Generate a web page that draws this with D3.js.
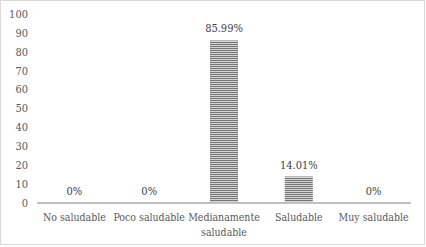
<!DOCTYPE html>
<html lang="es">
<head>
<meta charset="UTF-8">
<title>Niveles</title>
<script src="https://d3js.org/d3.v7.min.js"></script>
<style>
  body { margin: 0; background: #fff; }
</style>
</head>
<body>
<script>
  var categories = ["No saludable", "Poco saludable", "Medianamente saludable", "Saludable", "Muy saludable"];
  var values = [0, 0, 85.99, 14.01, 0];
  var labels = ["0%", "0%", "85.99%", "14.01%", "0%"];
  var yTicks = [0, 10, 20, 30, 40, 50, 60, 70, 80, 90, 100];

  var width = 426, height = 247;
  var margin = { left: 37, right: 15, top: 14, bottom: 44 };
  var font = "'DejaVu Serif Condensed', 'DejaVu Serif', serif";

  var svg = d3.select("body").append("svg")
    .attr("width", width)
    .attr("height", height)
    .style("font-family", font)
    .style("font-stretch", "condensed");

  // frame
  svg.append("rect")
    .attr("x", 0.5).attr("y", 0.5)
    .attr("width", width - 2).attr("height", height - 3)
    .attr("fill", "#fff")
    .attr("stroke", "#d9d9d9");

  // stripe pattern
  var pat = svg.append("defs").append("pattern")
    .attr("id", "stripes")
    .attr("patternUnits", "userSpaceOnUse")
    .attr("width", 4).attr("height", 2);
  pat.append("rect").attr("width", 4).attr("height", 2).attr("fill", "#d4d4d4");
  pat.append("rect").attr("width", 4).attr("height", 1).attr("fill", "#767676");

  var x = d3.scaleBand()
    .domain(categories)
    .range([margin.left, width - margin.right])
    .paddingInner(0.625)
    .paddingOuter(0.3125);

  var y = d3.scaleLinear()
    .domain([0, 100])
    .range([height - margin.bottom, margin.top]);

  // y labels
  svg.append("g").selectAll("text")
    .data(yTicks)
    .enter().append("text")
    .attr("x", 28)
    .attr("y", function (d) { return y(d); })
    .attr("dy", "0.35em")
    .attr("text-anchor", "end")
    .attr("font-size", 11)
    .attr("fill", "#595959")
    .text(function (d) { return d; });

  // bars
  svg.append("g").selectAll("rect")
    .data(values)
    .enter().append("rect")
    .attr("x", function (d, i) { return x(categories[i]); })
    .attr("y", function (d) { return y(d); })
    .attr("width", x.bandwidth())
    .attr("height", function (d) { return y(0) - y(d); })
    .attr("fill", "url(#stripes)");

  // axis line
  svg.append("line")
    .attr("x1", margin.left).attr("x2", width - margin.right)
    .attr("y1", y(0)).attr("y2", y(0))
    .attr("stroke", "#bfbfbf")
    .attr("stroke-width", 2);

  // value labels
  svg.append("g").selectAll("text")
    .data(values)
    .enter().append("text")
    .attr("x", function (d, i) { return x(categories[i]) + x.bandwidth() / 2; })
    .attr("y", function (d) { return y(d) - 8; })
    .attr("text-anchor", "middle")
    .attr("font-size", 11)
    .attr("fill", "#404040")
    .text(function (d, i) { return labels[i]; });

  // category labels
  var catText = svg.append("g").selectAll("text")
    .data(categories)
    .enter().append("text")
    .attr("x", function (d) { return x(d) + x.bandwidth() / 2; })
    .attr("y", y(0) + 18)
    .attr("text-anchor", "middle")
    .attr("font-size", 10.5)
    .attr("fill", "#595959");
  catText.each(function (d) {
    var t = d3.select(this);
    var lines = d === "Medianamente saludable" ? ["Medianamente", "saludable"] : [d];
    lines.forEach(function (l, k) {
      t.append("tspan")
        .attr("x", x(d) + x.bandwidth() / 2)
        .attr("dy", k === 0 ? 0 : 15)
        .text(l);
    });
  });
</script>
</body>
</html>
